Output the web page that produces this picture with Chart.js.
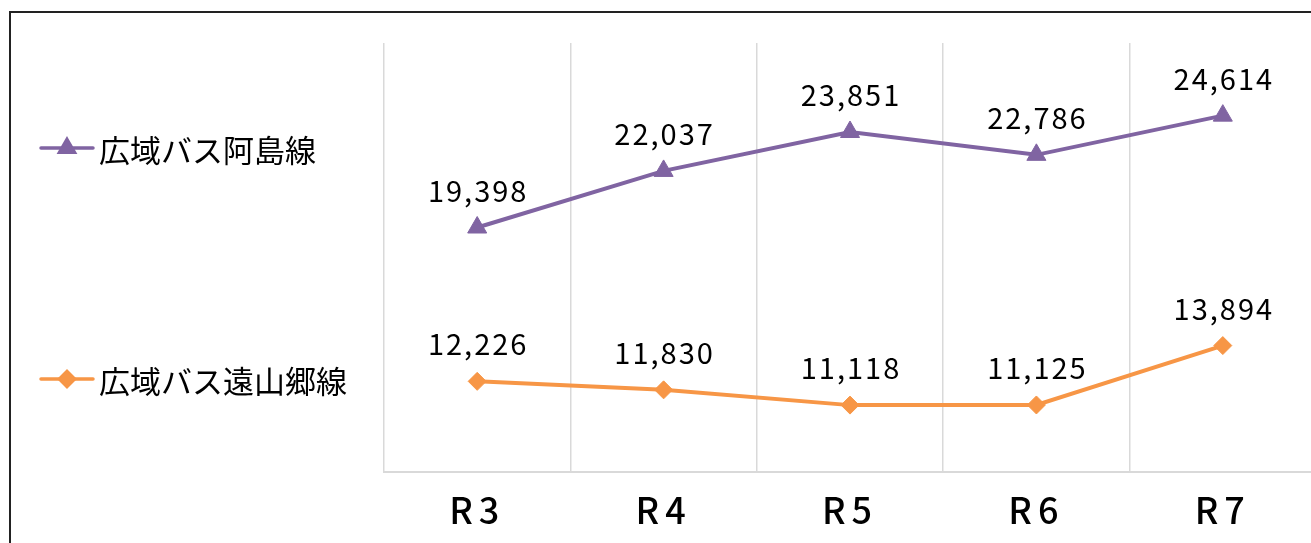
<!DOCTYPE html>
<html lang="ja">
<head>
<meta charset="utf-8">
<script src="https://cdn.jsdelivr.net/npm/chart.js@4"></script>
<style>
  html, body { margin: 0; padding: 0; background: #fff; overflow: hidden; }
  #wrap { position: relative; width: 1311px; height: 543px; overflow: hidden; }
  #frame { position: absolute; left: 9px; top: 11px; width: 1400px; height: 600px;
           border-top: 2px solid #222; border-left: 2px solid #222; }
  #box { position: absolute; left: 0; top: 0; width: 1328px; height: 543px; }
</style>
</head>
<body>
<div id="wrap">
  <div id="frame"></div>
  <div id="box"><canvas id="grafico" width="1328" height="543" style="width:1328px;height:543px"></canvas></div>
</div>
<script>
// 年度
const nendo = ["R3", "R4", "R5", "R6", "R7"];
// 路線名
const rosen = ["広域バス阿島線", "広域バス遠山郷線"];
// 利用者数
const ajima = [19398, 22037, 23851, 22786, 24614];
const tooyama = [12226, 11830, 11118, 11125, 13894];
const iro = ["#8064A2", "#F79646"];
const maakaa = ["triangle", "rectRot"];

const FONT = "'Noto Sans CJK JP', 'Noto Sans', sans-serif";

// X軸ラベルの字間
const spacingPlugin = {
  id: "spacingPlugin",
  beforeDraw(chart) { chart.ctx.letterSpacing = "6px"; },
  beforeDatasetsDraw(chart) { chart.ctx.letterSpacing = "0px"; }
};

// データラベルと凡例（左側）を描く
const labelPlugin = {
  id: "labelPlugin",
  afterDatasetsDraw(chart) {
    const ctx = chart.ctx;
    ctx.save();
    ctx.fillStyle = "#000";
    ctx.font = "400 29px " + FONT;
    ctx.letterSpacing = "2px";
    ctx.textAlign = "center";
    ctx.textBaseline = "alphabetic";
    chart.data.datasets.forEach((ds, i) => {
      chart.getDatasetMeta(i).data.forEach((pt, j) => {
        ctx.fillText(ds.data[j].toLocaleString("en-US"), pt.x + 1, pt.y - 26);
      });
    });

    // 凡例
    const legendY = [148, 379];
    ctx.letterSpacing = "0px";
    ctx.textAlign = "left";
    ctx.textBaseline = "middle";
    ctx.font = "400 31px " + FONT;
    chart.data.datasets.forEach((ds, i) => {
      const y = legendY[i];
      ctx.strokeStyle = ds.borderColor;
      ctx.lineWidth = 3.5;
      ctx.lineCap = "round";
      ctx.beginPath();
      ctx.moveTo(41, y);
      ctx.lineTo(93, y);
      ctx.stroke();
      Chart.helpers.drawPoint(ctx, {
        pointStyle: ds.pointStyle,
        radius: i === 0 ? 8.5 : 7.5,
        borderWidth: 1,
        rotation: 0
      }, 67, y);
      ctx.fillStyle = ds.borderColor;
      ctx.fill();
      ctx.fillStyle = "#000";
      ctx.fillText(rosen[i], 99, y + 2);
    });
    ctx.restore();
  }
};

const ctx = document.getElementById("grafico").getContext("2d");

new Chart(ctx, {
  type: "line",
  data: {
    labels: nendo,
    datasets: [ajima, tooyama].map((vals, i) => ({
      label: rosen[i],
      data: vals,
      borderColor: iro[i],
      backgroundColor: iro[i],
      borderWidth: 4,
      pointStyle: maakaa[i],
      pointRadius: i === 0 ? 11 : 9,
      pointBorderWidth: 1,
      pointBackgroundColor: iro[i],
      pointBorderColor: iro[i],
      tension: 0
    }))
  },
  options: {
    responsive: false,
    animation: false,
    layout: { padding: { left: 384, top: 43, right: 0, bottom: 0 } },
    plugins: {
      legend: { display: false },
      tooltip: { enabled: false }
    },
    scales: {
      x: {
        offset: true,
        grid: { offset: true, color: "#d9d9d9", lineWidth: 1.5, drawTicks: false },
        border: { display: true, color: "#d9d9d9", width: 2 },
        ticks: {
          color: "#000",
          font: { family: FONT, size: 36, weight: "500" },
          padding: 17
        },
        afterFit(scale) { scale.height = 71; }
      },
      y: {
        display: false,
        min: 8000,
        max: 28000
      }
    }
  },
  plugins: [spacingPlugin, labelPlugin]
});
</script>
</body>
</html>
